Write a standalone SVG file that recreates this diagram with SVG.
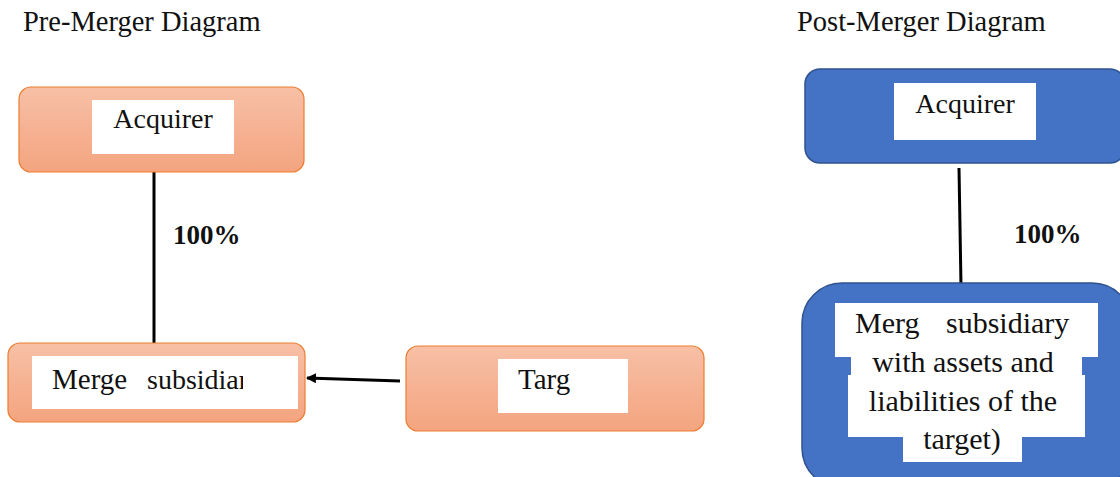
<svg xmlns="http://www.w3.org/2000/svg" width="1120" height="477" viewBox="0 0 1120 477">
  <defs>
    <linearGradient id="orangeFill" x1="0" y1="0" x2="0" y2="1">
      <stop offset="0" stop-color="#f7c0a6"/>
      <stop offset="1" stop-color="#f4a47f"/>
    </linearGradient>
    <marker id="arrowHead" markerWidth="10" markerHeight="10" refX="9" refY="5" orient="auto" markerUnits="userSpaceOnUse">
      <path d="M0,0 L10,5 L0,10 Z" fill="#000"/>
    </marker>
    <clipPath id="clipMergerLabel"><rect x="32" y="356" width="211" height="53"/></clipPath>
    <clipPath id="clipPostRow1"><rect x="835" y="303" width="263" height="54"/></clipPath>
  </defs>
  <style>
    .title { font-family: "Liberation Serif", serif; font-size: 28.5px; fill: #111; }
    .label { font-family: "Liberation Serif", serif; font-size: 28px; fill: #111; }
    .big { font-size: 30px; }
    .pct { font-family: "Liberation Serif", serif; font-size: 27px; font-weight: bold; fill: #111; }
    .orange { fill: url(#orangeFill); stroke: #ed7d31; stroke-width: 1.2; }
    .blue { fill: #4472c4; stroke: #2f528f; stroke-width: 1.5; }
    .pad { fill: #fff; }
    .link { stroke: #000; stroke-width: 3; fill: none; }
  </style>
  <rect width="1120" height="477" fill="#fff"/>

  <text class="title" x="23" y="31">Pre-Merger Diagram</text>
  <text class="title" x="797" y="31">Post-Merger Diagram</text>

  <!-- connectors -->
  <g id="connectors">
    <line class="link" x1="154" y1="172" x2="154" y2="348"/>
    <line class="link" x1="400" y1="381" x2="307" y2="378" marker-end="url(#arrowHead)"/>
    <line class="link" x1="959" y1="168" x2="961" y2="286"/>
    <text class="pct" x="173" y="244">100%</text>
    <text class="pct" x="1014" y="243">100%</text>
  </g>

  <!-- pre-merger nodes -->
  <g id="pre-acquirer">
    <rect class="orange" x="19" y="87" width="285" height="85" rx="12"/>
    <rect class="pad" x="92" y="100" width="142" height="54"/>
    <text class="label" x="163" y="128" text-anchor="middle">Acquirer</text>
  </g>
  <g id="pre-merger-sub">
    <rect class="orange" x="8" y="343" width="297" height="79" rx="12"/>
    <rect class="pad" x="32" y="356" width="266" height="53"/>
    <g clip-path="url(#clipMergerLabel)">
      <text class="label" x="52" y="389" style="font-size:29px">Merge</text>
      <text class="label" x="147" y="389">subsidiary</text>
    </g>
  </g>
  <g id="pre-target">
    <rect class="orange" x="406" y="346" width="298" height="85" rx="12"/>
    <rect class="pad" x="498" y="359" width="130" height="54"/>
    <text class="label" x="518" y="389" style="font-size:29px">Targ</text>
  </g>

  <!-- post-merger nodes -->
  <g id="post-acquirer">
    <rect class="blue" x="805" y="69" width="320" height="94" rx="15"/>
    <rect class="pad" x="894" y="83" width="142" height="57"/>
    <text class="label" x="965" y="113" text-anchor="middle">Acquirer</text>
  </g>
  <g id="post-merger-sub">
    <rect class="blue" x="802" y="283" width="330" height="205" rx="40"/>
    <rect class="pad" x="835" y="303" width="263" height="54"/>
    <rect class="pad" x="851" y="356" width="231" height="20"/>
    <rect class="pad" x="848" y="375" width="237" height="62"/>
    <rect class="pad" x="903" y="436" width="119" height="26"/>
    <g clip-path="url(#clipPostRow1)">
      <text class="label big" x="855" y="333">Merg</text>
    </g>
    <text class="label big" x="946" y="333">subsidiary</text>
    <text class="label big" x="963" y="372" text-anchor="middle">with assets and</text>
    <text class="label big" x="963" y="411" text-anchor="middle">liabilities of the</text>
    <text class="label big" x="962" y="449" text-anchor="middle">target)</text>
  </g>
</svg>
